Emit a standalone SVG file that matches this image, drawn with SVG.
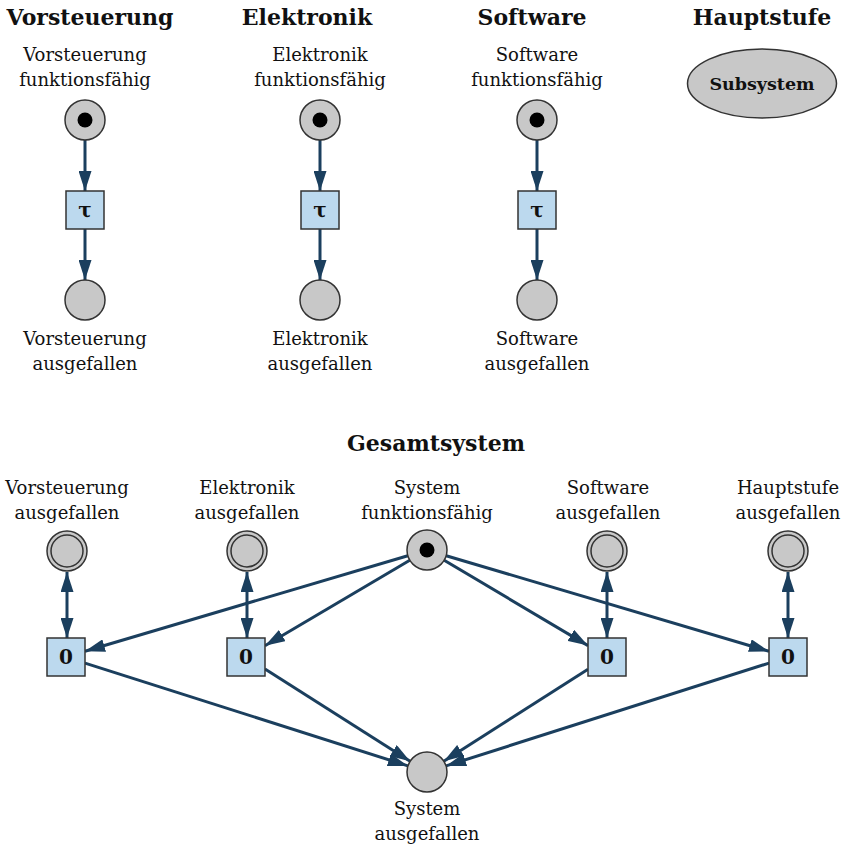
<svg xmlns="http://www.w3.org/2000/svg" width="850" height="846" viewBox="0 0 850 846">
  <style>
    text { font-family: "DejaVu Serif", "Liberation Serif", serif; fill: #111; text-anchor: middle; }
    .h { font-size: 22px; font-weight: bold; }
    .l { font-size: 18px; }
    .t { font-size: 20px; font-weight: bold; }
    .place { fill: #c8c8c8; stroke: #333; stroke-width: 1.5; }
    .inner { fill: none; stroke: #333; stroke-width: 1.5; }
    .token { fill: #000; }
    .trans { fill: #bcd9ee; stroke: #333; stroke-width: 1.5; }
    .arc { stroke: #1b3f5e; stroke-width: 3; fill: none; }
  </style>
  <defs>
    <marker id="ah" viewBox="0 0 20 13" refX="20" refY="6.5" markerWidth="20" markerHeight="13" markerUnits="userSpaceOnUse" orient="auto-start-reverse">
      <path d="M0,0 L20,6.5 L0,13 z" fill="#1b3f5e"/>
    </marker>
  </defs>
  <rect width="850" height="846" fill="#fff"/>

  <!-- headings -->
  <text class="h" x="90" y="25">Vorsteuerung</text>
  <text class="h" x="307" y="25">Elektronik</text>
  <text class="h" x="532" y="25">Software</text>
  <text class="h" x="762" y="25">Hauptstufe</text>
  <text class="h" x="436" y="451">Gesamtsystem</text>

  <!-- connectors -->
  <g id="connectors">
    <line class="arc" x1="85" y1="140" x2="85" y2="191" marker-end="url(#ah)"/>
    <line class="arc" x1="85" y1="229" x2="85" y2="280" marker-end="url(#ah)"/>
    <line class="arc" x1="320" y1="140" x2="320" y2="191" marker-end="url(#ah)"/>
    <line class="arc" x1="320" y1="229" x2="320" y2="280" marker-end="url(#ah)"/>
    <line class="arc" x1="537" y1="140" x2="537" y2="191" marker-end="url(#ah)"/>
    <line class="arc" x1="537" y1="229" x2="537" y2="280" marker-end="url(#ah)"/>

    <line class="arc" x1="67" y1="572" x2="67" y2="638" marker-start="url(#ah)" marker-end="url(#ah)"/>
    <line class="arc" x1="247" y1="572" x2="247" y2="638" marker-start="url(#ah)" marker-end="url(#ah)"/>
    <line class="arc" x1="607" y1="572" x2="607" y2="638" marker-start="url(#ah)" marker-end="url(#ah)"/>
    <line class="arc" x1="788" y1="572" x2="788" y2="638" marker-start="url(#ah)" marker-end="url(#ah)"/>

    <line class="arc" x1="407.8" y1="555.7" x2="85" y2="651.3" marker-end="url(#ah)"/>
    <line class="arc" x1="409.8" y1="560.2" x2="265" y2="645.8" marker-end="url(#ah)"/>
    <line class="arc" x1="444.2" y1="560.3" x2="588" y2="645.6" marker-end="url(#ah)"/>
    <line class="arc" x1="446.2" y1="555.7" x2="769" y2="651.3" marker-end="url(#ah)"/>

    <line class="arc" x1="85" y1="663.1" x2="407.9" y2="765.9" marker-end="url(#ah)"/>
    <line class="arc" x1="265" y1="669.1" x2="410.1" y2="761.3" marker-end="url(#ah)"/>
    <line class="arc" x1="588" y1="669.2" x2="443.8" y2="761.2" marker-end="url(#ah)"/>
    <line class="arc" x1="769" y1="663.1" x2="446.1" y2="765.9" marker-end="url(#ah)"/>
  </g>

  <!-- Vorsteuerung subsystem -->
  <g id="vs-ok">
    <text class="l" x="85" y="61">Vorsteuerung</text>
    <text class="l" x="85" y="86">funktionsfähig</text>
    <circle class="place" cx="85" cy="120" r="20"/>
    <circle class="token" cx="85" cy="120" r="7.5"/>
  </g>
  <g id="vs-tau"><rect class="trans" x="66" y="191" width="38" height="38"/><text class="t" x="85" y="217">τ</text></g>
  <g id="vs-fail">
    <circle class="place" cx="85" cy="300" r="20"/>
    <text class="l" x="85" y="345">Vorsteuerung</text>
    <text class="l" x="85" y="370">ausgefallen</text>
  </g>

  <!-- Elektronik subsystem -->
  <g id="el-ok">
    <text class="l" x="320" y="61">Elektronik</text>
    <text class="l" x="320" y="86">funktionsfähig</text>
    <circle class="place" cx="320" cy="120" r="20"/>
    <circle class="token" cx="320" cy="120" r="7.5"/>
  </g>
  <g id="el-tau"><rect class="trans" x="301" y="191" width="38" height="38"/><text class="t" x="320" y="217">τ</text></g>
  <g id="el-fail">
    <circle class="place" cx="320" cy="300" r="20"/>
    <text class="l" x="320" y="345">Elektronik</text>
    <text class="l" x="320" y="370">ausgefallen</text>
  </g>

  <!-- Software subsystem -->
  <g id="sw-ok">
    <text class="l" x="537" y="61">Software</text>
    <text class="l" x="537" y="86">funktionsfähig</text>
    <circle class="place" cx="537" cy="120" r="20"/>
    <circle class="token" cx="537" cy="120" r="7.5"/>
  </g>
  <g id="sw-tau"><rect class="trans" x="518" y="191" width="38" height="38"/><text class="t" x="537" y="217">τ</text></g>
  <g id="sw-fail">
    <circle class="place" cx="537" cy="300" r="20"/>
    <text class="l" x="537" y="345">Software</text>
    <text class="l" x="537" y="370">ausgefallen</text>
  </g>

  <!-- Hauptstufe subsystem -->
  <g id="hs-sub">
    <ellipse class="place" cx="762" cy="83.5" rx="74.5" ry="34.5"/>
    <text class="t" x="762" y="90" style="font-size:17.5px">Subsystem</text>
  </g>

  <!-- Gesamtsystem -->
  <g id="g-vs">
    <text class="l" x="67" y="494">Vorsteuerung</text>
    <text class="l" x="67" y="519">ausgefallen</text>
    <circle class="place" cx="67" cy="551" r="20"/>
    <circle class="inner" cx="67" cy="551" r="16"/>
  </g>
  <g id="g-el">
    <text class="l" x="247" y="494">Elektronik</text>
    <text class="l" x="247" y="519">ausgefallen</text>
    <circle class="place" cx="247" cy="551" r="20"/>
    <circle class="inner" cx="247" cy="551" r="16"/>
  </g>
  <g id="g-ok">
    <text class="l" x="427" y="494">System</text>
    <text class="l" x="427" y="519">funktionsfähig</text>
    <circle class="place" cx="427" cy="550" r="20"/>
    <circle class="token" cx="427" cy="550" r="7.5"/>
  </g>
  <g id="g-sw">
    <text class="l" x="608" y="494">Software</text>
    <text class="l" x="608" y="519">ausgefallen</text>
    <circle class="place" cx="607" cy="551" r="20"/>
    <circle class="inner" cx="607" cy="551" r="16"/>
  </g>
  <g id="g-hs">
    <text class="l" x="788" y="494">Hauptstufe</text>
    <text class="l" x="788" y="519">ausgefallen</text>
    <circle class="place" cx="788" cy="551" r="20"/>
    <circle class="inner" cx="788" cy="551" r="16"/>
  </g>
  <g id="t-vs"><rect class="trans" x="47" y="638" width="38" height="38"/><text class="t" x="66" y="664">0</text></g>
  <g id="t-el"><rect class="trans" x="227" y="638" width="38" height="38"/><text class="t" x="246" y="664">0</text></g>
  <g id="t-sw"><rect class="trans" x="588" y="638" width="38" height="38"/><text class="t" x="607" y="664">0</text></g>
  <g id="t-hs"><rect class="trans" x="769" y="638" width="38" height="38"/><text class="t" x="788" y="664">0</text></g>
  <g id="g-fail">
    <circle class="place" cx="427" cy="772" r="20"/>
    <text class="l" x="427" y="815">System</text>
    <text class="l" x="427" y="840">ausgefallen</text>
  </g>
</svg>
